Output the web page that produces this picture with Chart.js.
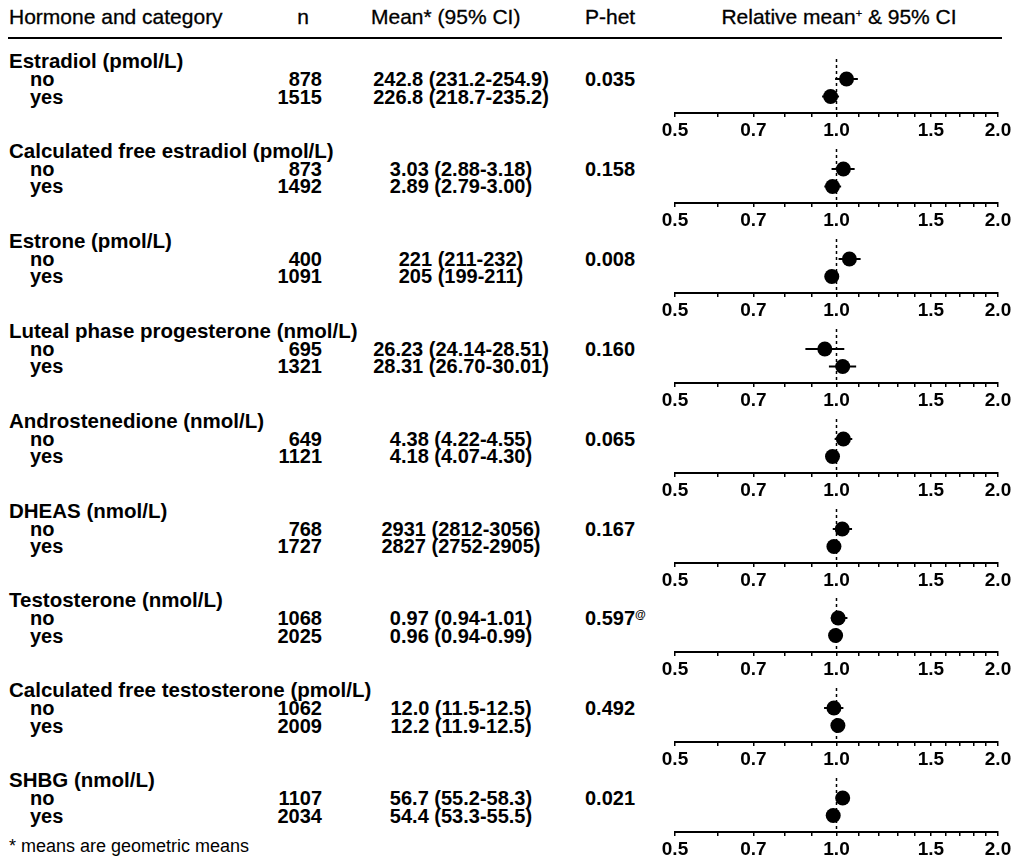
<!DOCTYPE html>
<html>
<head>
<meta charset="utf-8">
<script src="https://cdn.jsdelivr.net/npm/chart.js@4.4.1/dist/chart.umd.min.js"></script>
<style>
  html, body { margin: 0; padding: 0; background: #fff; }
  #page { position: relative; width: 1014px; height: 863px; overflow: hidden;
          font-family: "Liberation Sans", Arial, Helvetica, sans-serif; color: #000; }
  .t { position: absolute; white-space: nowrap; font-size: 20px; line-height: 20px; font-weight: bold; }
  .h { font-weight: normal; font-size: 21px; -webkit-text-stroke: 0.3px #000; }
  .title { font-size: 20.5px; }
  .sup { font-size: 11px; position: relative; top: -7px; }
  .rule { position: absolute; background: #000; }
  canvas.panel { position: absolute; }
</style>
</head>
<body>
<div id="page"></div>
<script>
// Hormones and table columns
const hormones = [
  'Estradiol (pmol/L)',
  'Calculated free estradiol (pmol/L)',
  'Estrone (pmol/L)',
  'Luteal phase progesterone (nmol/L)',
  'Androstenedione (nmol/L)',
  'DHEAS (nmol/L)',
  'Testosterone (nmol/L)',
  'Calculated free testosterone (pmol/L)',
  'SHBG (nmol/L)'
];
const categories = ['no', 'yes'];
const nNo  = [878, 873, 400, 695, 649, 768, 1068, 1062, 1107];
const nYes = [1515, 1492, 1091, 1321, 1121, 1727, 2025, 2009, 2034];
const meanNo  = ['242.8', '3.03', '221', '26.23', '4.38', '2931', '0.97', '12.0', '56.7'];
const ciNo    = ['231.2-254.9', '2.88-3.18', '211-232', '24.14-28.51', '4.22-4.55', '2812-3056', '0.94-1.01', '11.5-12.5', '55.2-58.3'];
const meanYes = ['226.8', '2.89', '205', '28.31', '4.18', '2827', '0.96', '12.2', '54.4'];
const ciYes   = ['218.7-235.2', '2.79-3.00', '199-211', '26.70-30.01', '4.07-4.30', '2752-2905', '0.94-0.99', '11.9-12.5', '53.3-55.5'];
const pHet     = ['0.035', '0.158', '0.008', '0.160', '0.065', '0.167', '0.597', '0.492', '0.021'];
const pHetNote = ['', '', '', '', '', '', '@', '', ''];

// Relative means and 95% CI (ratio to the overall geometric mean)
const relNo     = [1.044, 1.030, 1.057, 0.951, 1.030, 1.025, 1.007, 0.989, 1.027];
const relNoLo   = [0.994, 0.979, 1.009, 0.875, 0.992, 0.984, 0.976, 0.948, 1.000];
const relNoHi   = [1.096, 1.081, 1.109, 1.034, 1.070, 1.069, 1.048, 1.030, 1.056];
const relYes    = [0.975, 0.983, 0.980, 1.027, 0.983, 0.989, 0.996, 1.006, 0.986];
const relYesLo  = [0.940, 0.949, 0.951, 0.968, 0.957, 0.963, 0.976, 0.981, 0.966];
const relYesHi  = [1.011, 1.020, 1.009, 1.088, 1.011, 1.016, 1.028, 1.030, 1.005];

// Axis ticks
const tickValues = [0.5, 0.6, 0.7, 0.8, 0.9, 1.0, 1.1, 1.2, 1.3, 1.4, 1.5, 1.6, 1.7, 1.8, 1.9, 2.0];
const tickLabels = [0.5, 0.7, 1.0, 1.5, 2.0];

// ---- layout ----
const page = document.getElementById('page');
const PITCH = 89.9;
const COL = { label: 9, sub: 30, nRight: 322, meanCenter: 461, pLeft: 585 };

function addText(html, x, yCenter, opts = {}) {
  const d = document.createElement('div');
  d.className = 't' + (opts.cls ? ' ' + opts.cls : '');
  d.innerHTML = html;
  d.style.top = Math.round(yCenter - 10) + 'px';
  if (opts.right) d.style.right = (1014 - x) + 'px';
  else if (opts.center) { d.style.left = x + 'px'; d.style.transform = 'translateX(-50%)'; }
  else d.style.left = x + 'px';
  if (opts.style) Object.assign(d.style, opts.style);
  page.appendChild(d);
  return d;
}

// header
addText('Hormone and category', COL.label, 17, { cls: 'h' });
addText('n', 303, 17, { center: true, cls: 'h' });
addText('Mean* (95% CI)', 371, 17, { cls: 'h' });
addText('P-het', COL.pLeft, 17, { cls: 'h' });
addText('Relative mean<span class="sup">+</span> &amp; 95% CI', 839, 17, { center: true, cls: 'h' });
const rule = document.createElement('div');
rule.className = 'rule';
Object.assign(rule.style, { left: '8px', top: '37px', width: '994px', height: '2px' });
page.appendChild(rule);

// table rows
hormones.forEach((h, k) => {
  const base = k * PITCH;
  addText(h, COL.label, 61 + base, { cls: 'title' });
  const rows = [
    { cat: categories[0], n: nNo[k], m: meanNo[k], ci: ciNo[k], y: 79 + base },
    { cat: categories[1], n: nYes[k], m: meanYes[k], ci: ciYes[k], y: 96.5 + base }
  ];
  rows.forEach(r => {
    addText(r.cat, COL.sub, r.y);
    addText(String(r.n), COL.nRight, r.y, { right: true });
    addText(r.m + ' (' + r.ci + ')', COL.meanCenter, r.y, { center: true });
  });
  addText(pHet[k] + (pHetNote[k] ? '<span class="sup">' + pHetNote[k] + '</span>' : ''),
          COL.pLeft, 79 + base);
});

addText('* means are geometric means', COL.label, 846,
        { cls: 'h', style: { fontSize: '18px', webkitTextStroke: '0px' } });

// ---- forest panels ----
const errorBars = {
  id: 'errorBars',
  beforeDatasetsDraw(chart, args, opts) {
    const { ctx, chartArea } = chart;
    const xs = chart.scales.x, ys = chart.scales.y;
    ctx.save();
    // reference line at 1.0
    ctx.strokeStyle = '#000';
    ctx.lineWidth = 1.5;
    ctx.setLineDash([3, 3]);
    const x1 = xs.getPixelForValue(1.0);
    ctx.beginPath();
    ctx.moveTo(x1, chartArea.top);
    ctx.lineTo(x1, chartArea.bottom);
    ctx.stroke();
    ctx.setLineDash([]);
    // confidence intervals
    ctx.lineWidth = 2;
    opts.intervals.forEach(iv => {
      const y = ys.getPixelForValue(iv.y);
      ctx.beginPath();
      ctx.moveTo(xs.getPixelForValue(iv.lo), y);
      ctx.lineTo(xs.getPixelForValue(iv.hi), y);
      ctx.stroke();
    });
    ctx.restore();
  }
};

hormones.forEach((h, k) => {
  const top = Math.round(50 + k * PITCH);
  const cv = document.createElement('canvas');
  cv.className = 'panel';
  cv.width = 374; cv.height = 93;
  cv.style.left = '640px';
  cv.style.top = top + 'px';
  cv.style.width = '374px';
  cv.style.height = '93px';
  page.appendChild(cv);

  new Chart(cv.getContext('2d'), {
    type: 'scatter',
    data: {
      datasets: [{
        data: [{ x: relNo[k], y: 1 }, { x: relYes[k], y: 2 }],
        pointRadius: 7.5,
        pointHoverRadius: 7.5,
        pointBackgroundColor: '#000',
        pointBorderWidth: 0
      }]
    },
    options: {
      responsive: false,
      animation: false,
      events: [],
      layout: { padding: { left: 35, right: 16, top: 9, bottom: 0 } },
      plugins: {
        legend: { display: false },
        tooltip: { enabled: false },
        errorBars: {
          intervals: [
            { y: 1, lo: relNoLo[k], hi: relNoHi[k] },
            { y: 2, lo: relYesLo[k], hi: relYesHi[k] }
          ]
        }
      },
      scales: {
        x: {
          type: 'logarithmic',
          min: 0.5,
          max: 2.0,
          afterBuildTicks: (scale) => { scale.ticks = tickValues.map(v => ({ value: v })); },
          afterFit: (scale) => { scale.height = 30; },
          grid: { drawOnChartArea: false, drawTicks: true, tickLength: 4, color: '#000', lineWidth: 1.5 },
          border: { display: true, color: '#000', width: 2 },
          ticks: {
            autoSkip: false, maxRotation: 0, minRotation: 0, padding: 2,
            color: '#000',
            font: { family: '"Liberation Sans", Arial, sans-serif', size: 19, weight: 'bold' },
            callback: (v) => tickLabels.some(t => Math.abs(t - v) < 1e-9) ? Number(v).toFixed(1) : ''
          }
        },
        y: { type: 'linear', display: false, reverse: true, min: -0.143, max: 2.943 }
      }
    },
    plugins: [errorBars]
  });
});
</script>
</body>
</html>
